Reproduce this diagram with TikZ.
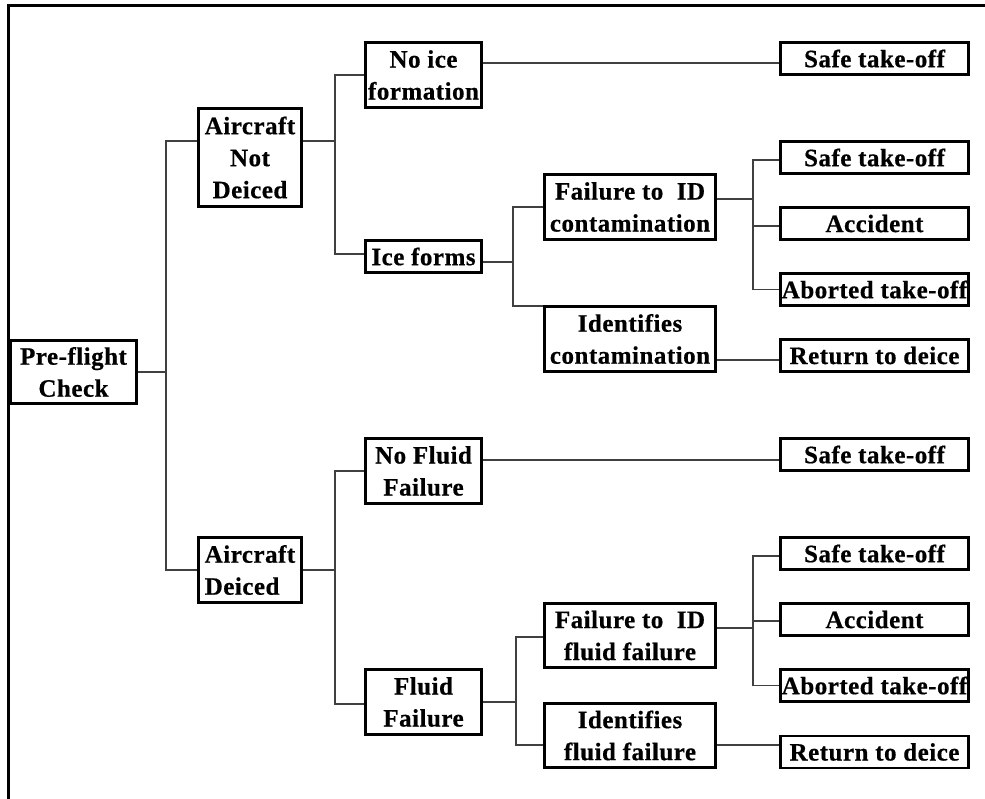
\documentclass[tikz,border=0pt]{standalone}
\usepackage{fontspec}
\setmainfont{Liberation Serif}[LetterSpace=2, BoldFeatures={FakeBold=0.6}]
\begin{document}
\begin{tikzpicture}[x=1pt,y=-1pt,
  box/.style={draw, line width=2.8pt, inner sep=0pt, align=center,
    font=\bfseries\fontsize{25}{32}\selectfont},
  big/.style={box, minimum width=116pt, minimum height=65pt},
  mid/.style={box, minimum width=171pt, minimum height=65pt},
  leaf/.style={box, minimum width=188pt, minimum height=32pt},
  conn/.style={draw=black!75, line width=1.1pt},
  frame/.style={line width=3pt}]
\useasboundingbox (0,0) rectangle (985,799);
% frame (left and top only)
\coordinate (fbl) at (8,799);
\coordinate (ftl) at (8,6);
\coordinate (ftr) at (985,6);
\draw[frame] (fbl) -- (ftl) -- (ftr);

% nodes
\node[box, minimum width=126pt, minimum height=63pt] (pf) at (73.5,372) {Pre-flight\\Check};
\node[box, minimum width=103pt, minimum height=98pt] (and) at (250,157.5) {Aircraft\\Not\\Deiced};
\node[box, minimum width=103pt, minimum height=65pt, align=left] (ad) at (250,570) {Aircraft\\Deiced};
\node[big] (noice) at (423.5,75) {No ice\\formation};
\node[box, minimum width=116pt, minimum height=32pt] (ice) at (423.5,256.5) {Ice forms};
\node[big] (nff) at (423.5,471) {No Fluid\\Failure};
\node[big] (ff) at (423.5,702) {Fluid\\Failure};
\node[mid] (fic) at (630,207) {Failure to~~ID\\contamination};
\node[mid] (idc) at (630,339) {Identifies\\contamination};
\node[mid, minimum height=64pt] (fif) at (630,635.5) {Failure to~~ID\\fluid failure};
\node[mid, minimum height=64pt] (idf) at (630,735.5) {Identifies\\fluid failure};
\node[leaf] (s1) at (874.5,58.5) {Safe take-off};
\node[leaf] (s2) at (874.5,157.5) {Safe take-off};
\node[leaf] (a1) at (874.5,223.5) {Accident};
\node[leaf] (ab1) at (874.5,289.5) {Aborted take-off};
\node[leaf] (r1) at (874.5,355.5) {Return to deice};
\node[leaf] (s3) at (874.5,454.5) {Safe take-off};
\node[leaf] (s4) at (874.5,553.5) {Safe take-off};
\node[leaf] (a2) at (874.5,619.5) {Accident};
\node[leaf] (ab2) at (874.5,685.5) {Aborted take-off};
\node[leaf] (r2) at (874.5,752) {Return to deice};

% trunk x positions
\coordinate (T1) at (166,0);
\coordinate (T2) at (335,0);
\coordinate (T3) at (513,0);
\coordinate (T4) at (753,0);
\coordinate (T5) at (516,0);

% attachment points
\coordinate (andW) at ([yshift=16.5pt]and.west);
\coordinate (andE) at ([yshift=16.5pt]and.east);
\coordinate (noiceE) at ([yshift=12pt]noice.east);
\coordinate (iceW) at ([yshift=2.5pt]ice.west);
\coordinate (iceE) at ([yshift=-5.5pt]ice.east);
\coordinate (s1W) at ([yshift=-4.5pt]s1.west);
\coordinate (ficE) at ([yshift=8pt]fic.east);
\coordinate (idcW) at ([yshift=33pt]idc.west);
\coordinate (idcE) at ([yshift=-21pt]idc.east);
\coordinate (s2W) at ([yshift=-2.5pt]s2.west);
\coordinate (a1W) at ([yshift=-2.5pt]a1.west);
\coordinate (r1W) at ([yshift=-4.5pt]r1.west);
\coordinate (nffE) at ([yshift=11pt]nff.east);
\coordinate (s3W) at ([yshift=-5.5pt]s3.west);
\coordinate (ffW) at ([yshift=-2pt]ff.west);
\coordinate (fifW) at ([yshift=-1.5pt]fif.west);
\coordinate (fifE) at ([yshift=7.5pt]fif.east);
\coordinate (idfW) at ([yshift=-9.5pt]idf.west);
\coordinate (idfE) at ([yshift=-9.5pt]idf.east);
\coordinate (s4W) at ([yshift=-2.5pt]s4.west);
\coordinate (a2W) at ([yshift=-1.5pt]a2.west);
\coordinate (r2W) at ([yshift=7pt]r2.west);

% connectors
\draw[conn] (pf.east) -- (pf.east -| T1);
\draw[conn] (andW) -- (andW -| T1) -- (ad.west -| T1) -- (ad.west);

\draw[conn] (andE) -- (andE -| T2);
\draw[conn] (noice.west) -- (noice.west -| T2) -- (iceW -| T2) -- (iceW);
\draw[conn] (noiceE) -- (s1W);
\draw[conn] (iceE) -- (iceE -| T3);
\draw[conn] (fic.west) -- (fic.west -| T3) -- (idcW -| T3) -- (idcW);
\draw[conn] (ficE) -- (ficE -| T4);
\draw[conn] (s2W) -- (s2W -| T4) -- (ab1.west -| T4) -- (ab1.west);
\draw[conn] (a1W) -- (a1W -| T4);
\draw[conn] (idcE) -- (r1W);

\draw[conn] (ad.east) -- (ad.east -| T2);
\draw[conn] (nff.west) -- (nff.west -| T2) -- (ffW -| T2) -- (ffW);
\draw[conn] (nffE) -- (s3W);
\draw[conn] (ff.east) -- (ff.east -| T5);
\draw[conn] (fifW) -- (fifW -| T5) -- (idfW -| T5) -- (idfW);
\draw[conn] (fifE) -- (fifE -| T4);
\draw[conn] (s4W) -- (s4W -| T4) -- (ab2.west -| T4) -- (ab2.west);
\draw[conn] (a2W) -- (a2W -| T4);
\draw[conn] (idfE) -- (r2W);
\end{tikzpicture}
\end{document}
